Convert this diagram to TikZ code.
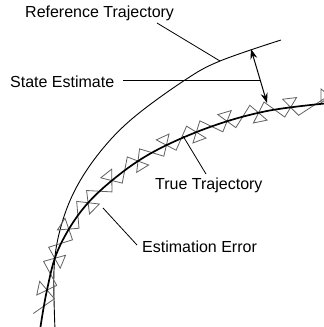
\documentclass[tikz,border=0pt]{standalone}
\usepackage{fontspec}
\setmainfont{Liberation Sans}
\usetikzlibrary{decorations,arrows.meta}
\def\zigd{9pt}
\def\zigw{14pt}
\def\zigstep{16.3pt}
\pgfdeclaredecoration{estzig}{init}{
  \state{init}[width=0pt,next state=ua]{\pgfpathmoveto{\pgfpoint{0pt}{-\zigd}}}
  \state{ua}[width=\zigstep,next state=ca]{
    \pgfpathlineto{\pgfpoint{\zigw}{\zigd}}
    \pgfpathlineto{\pgfpoint{0pt}{\zigd}}
    \pgfpathlineto{\pgfpoint{\zigw}{-\zigd}}
  }
  \state{ca}[width=\zigstep,next state=ub]{
    \pgfpathlineto{\pgfpoint{\zigstep}{\zigd}}
  }
  \state{ub}[width=\zigstep,next state=cb]{
    \pgfpathlineto{\pgfpoint{\zigw}{-\zigd}}
    \pgfpathlineto{\pgfpoint{0pt}{-\zigd}}
    \pgfpathlineto{\pgfpoint{\zigw}{\zigd}}
  }
  \state{cb}[width=\zigstep,next state=ua]{
    \pgfpathlineto{\pgfpoint{\zigstep}{-\zigd}}
  }
  \state{final}{}
}
\tikzset{
  lbl/.style={anchor=base west,inner sep=0pt,font=\fontsize{16}{18}\selectfont},
  leader/.style={line width=0.8pt},
  refcurve/.style={line width=0.9pt},
  truecurve/.style={line width=1.7pt},
  estcurve/.style={line width=0.8pt,black!62,
    decorate,decoration={estzig}},
  dbl/.style={line width=1pt,{Stealth[length=10pt,width=7pt]}-{Stealth[length=10pt,width=7pt]}}
}
\begin{document}
\begin{tikzpicture}[x=1pt,y=-1pt]
\useasboundingbox (0,0) rectangle (324,327);
\clip (0,0) rectangle (324,327);
% texts
\node[lbl] (ref) at (25,17) {Reference Trajectory};
\node[lbl] (est) at (10,87) {State Estimate};
\node[lbl] (tru) at (155,189) {True Trajectory};
\node[lbl] (err) at (142,252) {Estimation Error};
% curves
\draw[refcurve] plot[smooth,tension=0.6] coordinates {(281,40) (220,61) (185,80) (133,118) (100,152) (75,190) (60,230) (54,270) (55,330)};
\draw[estcurve] plot[smooth,tension=0.6] coordinates {(330,103) (267,111) (210,127) (155,151) (115,178) (82,210) (58,250) (47,290) (40,330)};
\draw[truecurve] plot[smooth,tension=0.6] coordinates {(330,103) (267,111) (210,127) (155,151) (115,178) (82,210) (58,250) (47,290) (40,330)};
% leader end points
\coordinate (refS) at (157,23);
\coordinate (refE) at (220,61);
\coordinate (estS) at (123,80);
\coordinate (estE) at (260,80);
\coordinate (arT) at (251,49);
\coordinate (arB) at (267,103);
\coordinate (truS) at (206,174);
\coordinate (truE) at (183,136);
\coordinate (errS) at (137,245);
\coordinate (errE) at (103,208);
\draw[leader] (refS) -- (refE);
\draw[leader] (estS) -- (estE);
\draw[dbl] (arT) -- (arB);
\draw[leader] (truS) -- (truE);
\draw[leader] (errS) -- (errE);
\end{tikzpicture}
\end{document}
